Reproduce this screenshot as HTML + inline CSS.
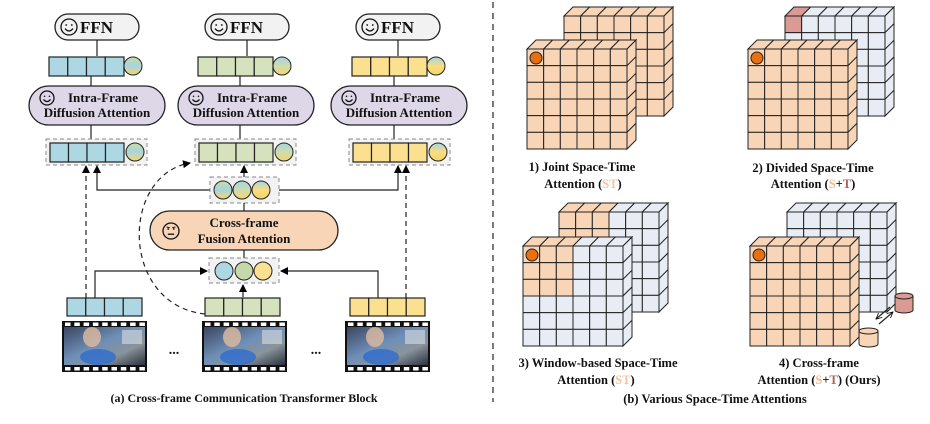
<!DOCTYPE html>
<html><head><meta charset="utf-8">
<style>
html,body{margin:0;padding:0;background:#fff;}
svg{display:block;font-family:"Liberation Serif",serif;font-weight:bold;}
</style></head>
<body>
<svg id="s" width="930" height="424" viewBox="0 0 930 424" xmlns="http://www.w3.org/2000/svg">
<defs>
<linearGradient id="gB" x1="0" y1="0" x2="0" y2="1"><stop offset="0" stop-color="#c8dca8"/><stop offset="0.5" stop-color="#a8d4e0"/><stop offset="1" stop-color="#f5d66a"/></linearGradient>
<linearGradient id="gG" x1="0" y1="0" x2="0" y2="1"><stop offset="0" stop-color="#a8d4e0"/><stop offset="0.5" stop-color="#cddcb0"/><stop offset="1" stop-color="#f5d66a"/></linearGradient>
<linearGradient id="gY" x1="0" y1="0" x2="0" y2="1"><stop offset="0" stop-color="#a8d4e0"/><stop offset="0.5" stop-color="#f8dc80"/><stop offset="1" stop-color="#f5d66a"/></linearGradient>
<linearGradient id="ph" x1="0" y1="0" x2="1" y2="1"><stop offset="0" stop-color="#3a4660"/><stop offset="0.45" stop-color="#6f8fb8"/><stop offset="0.7" stop-color="#8a949a"/><stop offset="1" stop-color="#2a3040"/></linearGradient>
<marker id="ar" markerWidth="8" markerHeight="8" refX="7" refY="4" orient="auto" markerUnits="userSpaceOnUse"><path d="M0,0 L8,4 L0,8 z" fill="#000"/></marker>
<marker id="ar2" markerWidth="7" markerHeight="6" refX="6" refY="3" orient="auto" markerUnits="userSpaceOnUse"><path d="M0,0 L6,3 L0,6" fill="none" stroke="#000" stroke-width="0.8"/></marker>
</defs>
<g id="g"></g>
</svg>
<script>
var g=document.getElementById('g');var h='';
function R(x,y,w,hh,f,st,extra){h+='<rect x="'+x+'" y="'+y+'" width="'+w+'" height="'+hh+'" fill="'+f+'" stroke="'+(st||'none')+'" '+(extra||'')+'/>';}
function L(x1,y1,x2,y2,extra){h+='<line x1="'+x1+'" y1="'+y1+'" x2="'+x2+'" y2="'+y2+'" stroke="#222" stroke-width="1.2" '+(extra||'')+'/>';}
function P(d,extra){h+='<path d="'+d+'" fill="none" stroke="#222" stroke-width="1.2" '+(extra||'')+'/>';}
function C(x,y,r,f){h+='<circle cx="'+x+'" cy="'+y+'" r="'+r+'" fill="'+f+'" stroke="#222" stroke-width="1"/>';}
function T(x,y,s,sz,anchor){h+='<text x="'+x+'" y="'+y+'" font-size="'+(sz||12)+'" text-anchor="'+(anchor||'middle')+'" fill="#111">'+s+'</text>';}
function bar(x,y,w,hh,f){for(var i=0;i<4;i++)R(x+i*w/4,y,w/4,hh,f,'#222','stroke-width="1.2"');}
function smile(x,y,r,frown){h+='<circle cx="'+x+'" cy="'+y+'" r="'+r+'" fill="none" stroke="#111" stroke-width="1.3"/>';
 h+='<circle cx="'+(x-r*0.35)+'" cy="'+(y-r*0.25)+'" r="'+(r*0.11)+'" fill="#111"/><circle cx="'+(x+r*0.35)+'" cy="'+(y-r*0.25)+'" r="'+(r*0.11)+'" fill="#111"/>';
 if(frown)h+='<line x1="'+(x-r*0.4)+'" y1="'+(y+r*0.4)+'" x2="'+(x+r*0.4)+'" y2="'+(y+r*0.4)+'" stroke="#111" stroke-width="1.3"/><line x1="'+(x-r*0.55)+'" y1="'+(y-r*0.5)+'" x2="'+(x-r*0.15)+'" y2="'+(y-r*0.4)+'" stroke="#111"/><line x1="'+(x+r*0.55)+'" y1="'+(y-r*0.5)+'" x2="'+(x+r*0.15)+'" y2="'+(y-r*0.4)+'" stroke="#111"/>';
 else h+='<path d="M'+(x-r*0.5)+','+(y+r*0.2)+' Q'+x+','+(y+r*0.8)+' '+(x+r*0.5)+','+(y+r*0.2)+'" fill="none" stroke="#111" stroke-width="1.3"/>';}
var B='#add8e3',G='#d5e2bd',Y='#fbe090',O='#f9d5b8',BL='#e8edf5',RD='#d99b94',OC='#e8700f';
var cols=[{x:49,ffn:55,ia:29,f:B,grad:'gB'},{x:198,ffn:205,ia:178,f:G,grad:'gG'},{x:352,ffn:356,ia:331,f:Y,grad:'gY'}];
cols.forEach(function(c,i){
 var cx=c.x+42;
 L(c.ffn+42,40,c.ffn+42,56);L(cx,76,cx,86);L(cx,125,cx,139);
 R(c.ffn,14,84,26,'#f2f2f2','#222','rx="13" stroke-width="1.3"');smile(c.ffn+14,27,8);T(c.ffn+25,33,'FFN',17,'start');
 bar(c.x,57,75,19,c.f);C(c.x+84,66,9,'url(#'+c.grad+')');
 R(c.ia,86,136,39,'#ddd7e8','#222','rx="19.5" stroke-width="1.3"');smile(c.ia+18,98,7);T(c.ia+74,102,'Intra-Frame',13);T(c.ia+68,117,'Diffusion Attention',13);
 R(c.x-3,139,101,26,'#f2f2f2','#888','stroke-dasharray="4,3"');bar(c.x+1,143,74,19,c.f);C(c.x+86,152,9,'url(#'+c.grad+')');
});
L(244,177,244,166,'marker-end="url(#ar)"');
P('M210,190 H97 V166','marker-end="url(#ar)"');
P('M279,190 H398 V166','marker-end="url(#ar)"');
R(210,177,69,26,'#f2f2f2','#888','stroke-dasharray="4,3"');
C(223,190,9,'url(#gB)');C(242,190,9,'url(#gG)');C(261,190,9,'url(#gY)');
L(244,203,244,211);
R(150,211,188,39,O,'#222','rx="19.5" stroke-width="1.3"');smile(171,231,8,true);T(244,227,'Cross-frame',13);T(244,243,'Fusion Attention',13);
L(244,250,244,258);
R(209,258,70,25,'#f2f2f2','#888','stroke-dasharray="4,3"');
C(224,271,9,B);C(244,271,9,'#c5d8a9');C(263,271,9,Y);
P('M95,298 V271 H207','marker-end="url(#ar)"');
P('M378,298 V271 H281','marker-end="url(#ar)"');
L(243,297,243,285,'marker-end="url(#ar)"');
P('M86,298 V166','stroke-dasharray="5,4" marker-end="url(#ar)"');
P('M406,298 V166','stroke-dasharray="5,4" marker-end="url(#ar)"');
P('M205,314 C120,305 120,175 190,163','stroke-dasharray="5,4" marker-end="url(#ar)"');
[[67,B,62],[205,G,202],[350,Y,345]].forEach(function(a){
 bar(a[0],298,75,18,a[1]);
 var fx=a[2];R(fx,321,85,51,'#111');R(fx+2,327,81,38,'url(#ph)');
 for(var k=0;k<9;k++){R(fx+3+k*9.3,322.5,5.5,3.5,'#fff');R(fx+3+k*9.3,367,5.5,3.5,'#fff');}
 h+='<ellipse cx="'+(fx+30)+'" cy="337" rx="9" ry="10" fill="#d8b8a0" opacity="0.85"/><ellipse cx="'+(fx+36)+'" cy="357" rx="18" ry="8" fill="#2a6ad0" opacity="0.75"/><rect x="'+(fx+60)+'" y="330" width="20" height="14" fill="#d8dde4" opacity="0.6"/>';
});
T(174,354,'...',14);T(316,354,'...',14);
T(244,402,'(a) Cross-frame Communication Transformer Block',12);
L(493,2,493,402,'stroke-dasharray="6,5"');
function cube(x,y,colf){var S=100,n=6,c=S/6,d=9;
 for(var j=0;j<n;j++)for(var i=0;i<n;i++)R(x+i*c,y+j*c,c,c,colf(i,j),'#222','stroke-width="1"');
 for(var i=0;i<n;i++)h+='<polygon points="'+(x+i*c)+','+y+' '+(x+(i+1)*c)+','+y+' '+(x+(i+1)*c+d)+','+(y-d)+' '+(x+i*c+d)+','+(y-d)+'" fill="'+colf(i,-1)+'" stroke="#222" stroke-width="1"/>';
 for(var j=0;j<n;j++)h+='<polygon points="'+(x+S)+','+(y+j*c)+' '+(x+S+d)+','+(y+j*c-d)+' '+(x+S+d)+','+(y+(j+1)*c-d)+' '+(x+S)+','+(y+(j+1)*c)+'" fill="'+colf(5,j)+'" stroke="#222" stroke-width="1"/>';}
function fo(){return O;} function fb(){return BL;}
cube(564,16,fo);cube(527,49,fo);C(536,58,6,OC);
cube(785,16,function(i,j){return (i==0&&j<=0)?RD:BL;});cube(748,49,fo);C(757,58,6,OC);
var win=function(i,j){return (i<3&&j<3)?O:BL;};
cube(559,212,win);cube(523,246,win);C(532,255,6,OC);
cube(787,212,fb);cube(750,246,fo);C(759,255,6,OC);
function cyl(x,y,w,hh,f){h+='<path d="M'+x+','+y+' V'+(y+hh)+' A'+(w/2)+',3 0 0 0 '+(x+w)+','+(y+hh)+' V'+y+'" fill="'+f+'" stroke="#222" stroke-width="1"/><ellipse cx="'+(x+w/2)+'" cy="'+y+'" rx="'+(w/2)+'" ry="3" fill="'+f+'" stroke="#222" stroke-width="1"/>';}
cyl(895,296,18,14,RD);cyl(859,331,19,13,O);
L(890,307,876,319,'stroke-width="0.9" marker-end="url(#ar2)"');
L(879,324,893,312,'stroke-width="0.9" marker-end="url(#ar2)"');
T(582,171,'1) Joint Space-Time',12.5);
T(583,188,'Attention (<tspan fill="#f5c49a">ST</tspan>)',12.5);
T(813,172,'2) Divided Space-Time',12.5);
T(813,188,'Attention (<tspan fill="#f5b88a">S</tspan>+<tspan fill="#b0605a">T</tspan>)',12.5);
T(598,367,'3) Window-based Space-Time',12.5);
T(596,384,'Attention (<tspan fill="#f5c49a">ST</tspan>)',12.5);
T(819,367,'4)  Cross-frame',12.5);
T(819,384,'Attention (<tspan fill="#f5b88a">S</tspan>+<tspan fill="#b0605a">T</tspan>) (Ours)',12.5);
T(715,403,'(b) Various Space-Time Attentions',12.5);
g.innerHTML=h;
</script>
</body></html>
